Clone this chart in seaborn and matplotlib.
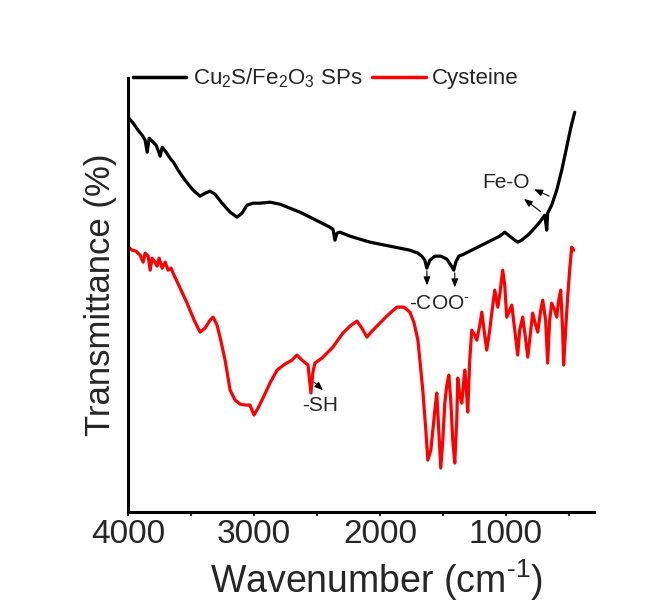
import matplotlib
matplotlib.use("Agg")
import matplotlib.pyplot as plt
import seaborn as sns
import pandas as pd

# ---- data (transmittance in arbitrary units) ----
cu_wn = [4000, 3960, 3921, 3889, 3865, 3849, 3833, 3802, 3778, 3762, 3746, 3730,
         3698, 3667, 3635, 3603, 3548, 3484, 3429, 3389, 3349, 3310, 3254, 3190,
         3135, 3095, 3056, 3008, 2952, 2873, 2794, 2714, 2635, 2555, 2476, 2397,
         2373, 2357, 2341, 2317, 2238, 2159, 2079, 2000, 1920, 1841, 1762, 1698,
         1667, 1643, 1627, 1603, 1563, 1516, 1468, 1436, 1413, 1397, 1373, 1333,
         1286, 1206, 1127, 1048, 1008, 968, 928, 905, 873, 825, 786, 730, 690,
         674, 667, 635, 595, 555, 516, 484, 452]
cu_t = [395, 389, 382, 377, 372, 360, 374, 370, 367, 362, 356, 365,
        360, 354, 349, 342, 332, 322, 316, 319, 321, 318, 309, 300,
        295, 299, 307, 309, 309, 310, 308, 304, 300, 295, 290, 285,
        283, 272, 279, 280, 276, 273, 270, 268, 266, 264, 262, 259,
        256, 252, 244, 252, 256, 256, 253, 247, 242, 250, 256, 258,
        261, 266, 271, 276, 280, 276, 272, 270, 272, 277, 282, 290, 297,
        282, 299, 307, 322, 342, 365, 384, 400]

cys_wn = [4000, 3968, 3937, 3905, 3881, 3865, 3841, 3825, 3810, 3786, 3770, 3754,
          3730, 3706, 3683, 3659, 3643, 3587, 3532, 3476, 3429, 3389, 3349, 3325,
          3294, 3270, 3230, 3190, 3151, 3111, 3071, 3032, 3000, 2968, 2929, 2873,
          2817, 2754, 2698, 2659, 2619, 2571, 2548, 2532, 2516, 2460, 2413, 2373,
          2333, 2294, 2238, 2182, 2143, 2103, 2055, 2000, 1937, 1865, 1809, 1762,
          1730, 1698, 1675, 1659, 1635, 1619, 1595, 1579, 1563, 1548, 1532, 1516,
          1500, 1484, 1468, 1452, 1437, 1421, 1405, 1389, 1381, 1365, 1349, 1333,
          1325, 1310, 1302, 1286, 1270, 1246, 1230, 1206, 1190, 1167, 1151, 1127,
          1111, 1087, 1063, 1048, 1024, 1008, 992, 968, 952, 928, 905, 889, 865,
          841, 825, 801, 786, 762, 746, 722, 706, 683, 667, 651, 635, 611, 595,
          579, 563, 548, 540, 524, 508, 492, 476, 460]
cys_t = [265, 262, 261, 257, 250, 259, 256, 242, 254, 250, 246, 254,
         244, 250, 242, 244, 239, 224, 209, 192, 180, 184, 192, 195,
         187, 175, 152, 122, 112, 108, 107, 107, 97, 104, 114, 129,
         142, 148, 152, 157, 152, 147, 119, 140, 149, 154, 160, 165,
         172, 179, 186, 191, 184, 175, 182, 189, 197, 205, 205, 200,
         190, 172, 142, 122, 82, 52, 62, 82, 102, 119, 82, 44,
         72, 109, 127, 137, 112, 72, 49, 92, 134, 117, 109, 132,
         142, 117, 100, 152, 182, 177, 172, 187, 200, 177, 162, 182,
         199, 222, 205, 217, 242, 227, 195, 202, 207, 182, 157, 182, 195,
         172, 155, 182, 199, 187, 180, 202, 212, 192, 149, 192, 209, 202, 195,
         212, 222, 182, 147, 182, 215, 242, 265, 262]

series_labels = ["Cu$_2$S/Fe$_2$O$_3$ SPs", "Cysteine"]
series_colors = ["black", "#ff0000"]

# ---- style ----
sns.set_style("white")
plt.rcParams["font.family"] = ["Liberation Sans", "DejaVu Sans"]
plt.rcParams["mathtext.fontset"] = "custom"
plt.rcParams["mathtext.rm"] = "Liberation Sans"
plt.rcParams["mathtext.it"] = "Liberation Sans:italic"
plt.rcParams["mathtext.default"] = "regular"

fig = plt.figure(figsize=(6.71, 6.02), dpi=100)
ax = fig.add_axes([0.191, 0.1495, 0.694, 0.7205])

df_cu = pd.DataFrame({"wn": cu_wn, "T": cu_t})
df_cys = pd.DataFrame({"wn": cys_wn, "T": cys_t})
sns.lineplot(data=df_cu, x="wn", y="T", ax=ax, color=series_colors[0], lw=2.3,
             sort=False, label=series_labels[0])
sns.lineplot(data=df_cys, x="wn", y="T", ax=ax, color=series_colors[1], lw=2.3,
             sort=False, label=series_labels[1])

ax.set_xlim(4000, 300)
ax.set_ylim(0, 434)
ax.set_xticks([4000, 3000, 2000, 1000])
ax.set_xticks([3500, 2500, 1500, 500], minor=True)
ax.set_xticklabels(["4000", "3000", "2000", "1000"])
ax.set_yticks([])
ax.tick_params(axis="x", which="major", direction="out", length=3, width=1.5,
               labelsize=24, pad=2, bottom=True)
ax.tick_params(axis="x", which="minor", direction="out", length=3, width=1.5,
               bottom=True)
for s in ["top", "right"]:
    ax.spines[s].set_visible(False)
for s in ["left", "bottom"]:
    ax.spines[s].set_linewidth(2.2)
    ax.spines[s].set_color("black")

ax.set_xlabel(r"Wavenumber (cm$^{\text{-}1}$)", fontsize=27, labelpad=3)
ax.xaxis.set_label_coords(0.534, -0.105)
ax.set_ylabel("Transmittance (%)", fontsize=25, labelpad=8)

leg = ax.legend(loc="center left", bbox_to_anchor=(0.01, 1.0),
                ncol=2, frameon=False, fontsize=16, handlelength=2.4,
                handletextpad=0.3, columnspacing=0.45, borderaxespad=0,
                borderpad=0)
for line in leg.get_lines():
    line.set_linewidth(2.5)

# ---- annotations ----
arrow_kw = dict(arrowstyle="-|>,head_length=0.5,head_width=0.2", color="black", lw=0.8)
ax.annotate("", xy=(794, 324), xytext=(635, 315), arrowprops=arrow_kw)
ax.annotate("", xy=(873, 315), xytext=(706, 299), arrowprops=arrow_kw)
ax.text(1000, 330, "Fe-O", fontsize=15, ha="center", va="center")

ax.annotate("", xy=(1625, 224), xytext=(1627, 244), arrowprops=arrow_kw)
ax.annotate("", xy=(1405, 222), xytext=(1405, 242), arrowprops=arrow_kw)
ax.text(1524, 209, r"-COO$^{\text{-}}$", fontsize=15, ha="center", va="center")

ax.annotate("", xy=(2436, 120), xytext=(2540, 132), arrowprops=arrow_kw)
ax.text(2476, 107, "-SH", fontsize=15, ha="center", va="center")

fig.savefig("out.png", dpi=100)
